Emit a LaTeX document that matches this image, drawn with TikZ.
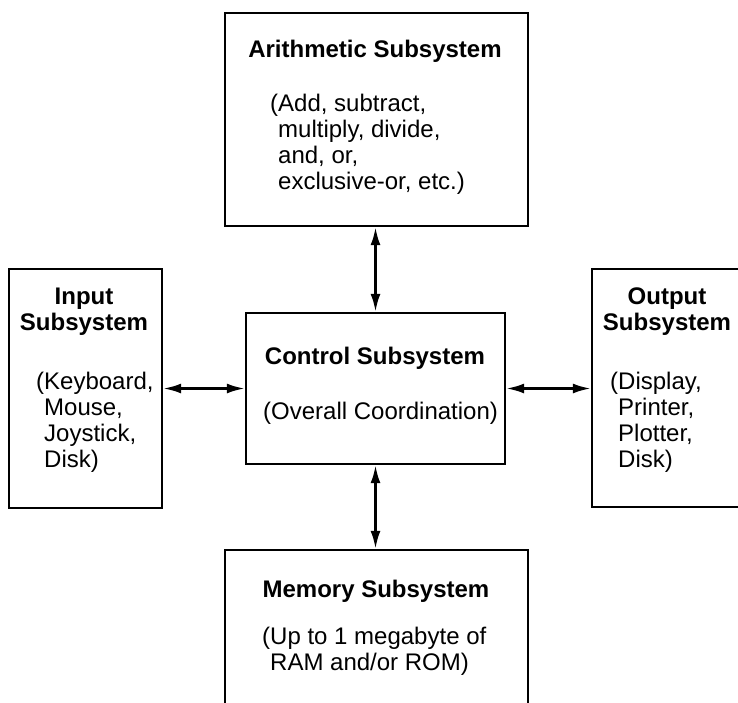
\documentclass[tikz,border=0pt]{standalone}
\usepackage{fontspec}
\setmainfont{Liberation Sans}
\usetikzlibrary{arrows.meta}
\newcommand{\ind}{\phantom{(}}
\begin{document}
\begin{tikzpicture}[x=1pt,y=-1pt,
  box/.style={draw,line width=2.4pt,inner sep=0pt},
  title/.style={font=\fontsize{24}{26}\selectfont\bfseries,inner sep=0pt,align=center,anchor=north},
  desc/.style={font=\fontsize{24}{26}\selectfont,inner sep=0pt,align=left,anchor=north west},
  link/.style={draw,line width=2.5pt,{Latex[length=18pt,width=10pt]}-{Latex[length=18pt,width=10pt]}}]
\useasboundingbox (0,0) rectangle (738,702);
\clip (0,0) rectangle (738,702);

\node[box,minimum width=303pt,minimum height=213pt] (arith) at (376.5,119.5) {};
\node[box,minimum width=259pt,minimum height=151pt] (ctrl) at (375.5,388.5) {};
\node[box,minimum width=153pt,minimum height=239pt] (input) at (85.5,388.5) {};
\node[box,minimum width=153pt,minimum height=238pt] (output) at (668.5,388) {};
\node[box,minimum width=303pt,minimum height=210pt] (memory) at (376.5,655) {};

\node[title] (arithT) at (375,40) {Arithmetic Subsystem};
\node[desc] (arithD) at (270,94) {(Add, subtract,\\\ind multiply, divide,\\\ind and, or,\\\ind exclusive-or, etc.)};
\node[title] (ctrlT) at (375,347) {Control Subsystem};
\node[desc] (ctrlD) at (263,402) {(Overall Coordination)};
\node[title] (inputT) at (84,288) {Input\\Subsystem};
\node[desc] (inputD) at (36,372) {(Keyboard,\\\ind Mouse,\\\ind Joystick,\\\ind Disk)};
\node[title] (outputT) at (667,288) {Output\\Subsystem};
\node[desc] (outputD) at (610,372) {(Display,\\\ind Printer,\\\ind Plotter,\\\ind Disk)};
\node[title] (memoryT) at (376,580) {Memory Subsystem};
\node[desc] (memoryD) at (262,627) {(Up to 1 megabyte of\\\ind RAM and/or ROM)};

\path[link] (ctrl.north) -- (ctrl.north |- arith.south);
\path[link] (ctrl.south) -- (ctrl.south |- memory.north);
\path[link] (input.east |- ctrl.west) -- (ctrl.west);
\path[link] (ctrl.east) -- (ctrl.east -| output.west);
\end{tikzpicture}
\end{document}
